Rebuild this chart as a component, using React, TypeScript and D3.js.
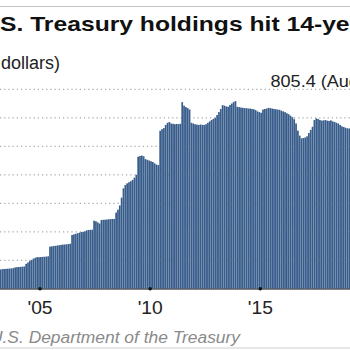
import React from "react";
import * as d3 from "d3";

// China's holdings of U.S. Treasuries, billions of dollars, monthly (Jan..Dec)
const years = [2002, 2003, 2004, 2005, 2006, 2007, 2008, 2009, 2010, 2011, 2012, 2013, 2014, 2015, 2016, 2017, 2018, 2019, 2020, 2021, 2022, 2023];
const v2002 = [78, 80, 83, 86, 88, 92, 95, 98, 100, 103, 108, 118];
const v2003 = [128, 132, 136, 138, 139, 140, 141, 142, 143, 145, 150, 152];
const v2004 = [153, 154, 155, 157, 175, 185, 195, 203, 212, 218, 222, 222];
const v2005 = [223, 224, 225, 226, 228, 296, 298, 300, 302, 304, 306, 308];
const v2006 = [310, 311, 312, 314, 316, 378, 382, 386, 390, 394, 398, 400];
const v2007 = [403, 410, 413, 414, 415, 478, 474, 466, 458, 483, 484, 485];
const v2008 = [486, 488, 489, 490, 490, 535, 555, 585, 640, 705, 728, 740];
const v2009 = [748, 755, 764, 780, 800, 927, 932, 935, 930, 910, 905, 900];
const v2010 = [895, 890, 880, 872, 868, 1109, 1120, 1128, 1150, 1165, 1170, 1160];
const v2011 = [1158, 1155, 1157, 1156, 1158, 1310, 1285, 1275, 1268, 1258, 1165, 1160];
const v2012 = [1155, 1152, 1150, 1153, 1150, 1150, 1155, 1165, 1175, 1185, 1192, 1200];
const v2013 = [1219, 1240, 1262, 1289, 1285, 1280, 1277, 1290, 1300, 1310, 1317, 1277];
const v2014 = [1275, 1272, 1270, 1268, 1268, 1265, 1265, 1262, 1260, 1254, 1245, 1240];
const v2015 = [1235, 1258, 1262, 1265, 1270, 1268, 1265, 1262, 1260, 1258, 1256, 1250];
const v2016 = [1245, 1240, 1232, 1225, 1215, 1205, 1190, 1160, 1110, 1075, 1056, 1058];
const v2017 = [1062, 1070, 1093, 1115, 1137, 1184, 1196, 1192, 1185, 1180, 1182, 1184];
const v2018 = [1180, 1178, 1182, 1175, 1170, 1165, 1160, 1150, 1140, 1135, 1130, 1126];
const v2019 = [1125, 1130, 1120, 1115, 1110, 1115, 1110, 1105, 1100, 1090, 1085, 1075];
const v2020 = [1080, 1090, 1085, 1075, 1080, 1075, 1070, 1065, 1065, 1060, 1060, 1065];
const v2021 = [1095, 1105, 1100, 1095, 1080, 1065, 1060, 1050, 1045, 1050, 1055, 1060];
const v2022 = [1035, 1020, 1000, 985, 975, 965, 960, 940, 920, 905, 890, 865];
const v2023 = [860, 850, 845, 845, 840, 835, 820, 805.4];
const valuesByYear = [v2002, v2003, v2004, v2005, v2006, v2007, v2008, v2009, v2010, v2011, v2012, v2013, v2014, v2015, v2016, v2017, v2018, v2019, v2020, v2021, v2022, v2023];

const gridValues = [200, 400, 600, 800, 1000, 1200, 1400];
const tickYears = [2000, 2005, 2010, 2015, 2020];
const tickLabels = ["'00", "'05", "'10", "'15", "'20"];

const titleHidden = "China's U.";
const titleVisible = "S. Treasury holdings hit 14-year low";
const subtitle = "(Billions of dollars)";
const annotation = "805.4 (Aug)";
const source = "Source: U.S. Department of the Treasury";

const FONT = "'Liberation Sans', Arial, Helvetica, sans-serif";

export default function App() {
  const W = 350;
  const H = 350;
  const x = d3.scaleLinear().domain([2005, 2015]).range([40, 260.3]);
  const y = d3.scaleLinear().domain([0, 1400]).range([288.8, 89.3]);
  const step = x(2005 + 1 / 12) - x(2005);

  const bars: { t: number; v: number }[] = [];
  years.forEach((yr, i) => {
    valuesByYear[i].forEach((v, m) => bars.push({ t: yr + m / 12, v }));
  });

  return (
    <div style={{ position: "absolute", left: 0, top: 0 }}>
      <svg width={W} height={H} style={{ display: "block", background: "#fff" }}>
        <line x1={0} x2={W} y1={6.5} y2={6.5} stroke="#c4c4c4" strokeWidth={1.2} />
        <g transform={`translate(0,31) scale(1.175,1)`}>
          <text x={0} y={0} fontFamily={FONT} fontWeight="bold" fontSize={21} fill="#111" textAnchor="end">{titleHidden}</text>
          <text x={0} y={0} fontFamily={FONT} fontWeight="bold" fontSize={21} fill="#111">{titleVisible}</text>
        </g>
        <text x={60} y={69} fontFamily={FONT} fontSize={18} fill="#222" textAnchor="end">{subtitle}</text>

        {gridValues.map((g) => (
          <line key={"g" + g} x1={0} x2={W} y1={y(g)} y2={y(g)} stroke="#b8b8b8" strokeWidth={1.2} strokeDasharray="1.2 3" />
        ))}

        {bars.map((b, i) => (
          <rect key={i} x={x(b.t)} y={y(b.v)} width={step - 0.12} height={y(0) - y(b.v)} fill="#395d8b" />
        ))}

        {gridValues.map((g) => (
          <line key={"go" + g} x1={0} x2={W} y1={y(g)} y2={y(g)} stroke="#7f97b5" strokeOpacity={0.3} strokeWidth={1} strokeDasharray="1.2 3" />
        ))}

        <line x1={0} x2={W} y1={y(0) + 0.3} y2={y(0) + 0.3} stroke="#2a2a2a" strokeWidth={1} />
        {tickYears.map((t, i) => (
          <g key={"t" + t}>
            <circle cx={x(t)} cy={y(0)} r={1.8} fill="#111" />
            <g transform={`translate(${x(t)},314) scale(1.1,1)`}>
              <text x={0} y={0} fontFamily={FONT} fontSize={17.5} fill="#222" textAnchor="middle">{tickLabels[i]}</text>
            </g>
          </g>
        ))}

        <g transform={`translate(270.5,87) scale(1.13,1)`}>
          <text x={0} y={0} fontFamily={FONT} fontSize={16} fill="#222">{annotation}</text>
        </g>

        <text x={240} y={343} fontFamily={FONT} fontStyle="italic" fontSize={17.4} fill="#8a8a8a" textAnchor="end">{source}</text>
        <line x1={0} x2={W} y1={348} y2={348} stroke="#d0d0d0" strokeWidth={1} />
      </svg>
    </div>
  );
}
